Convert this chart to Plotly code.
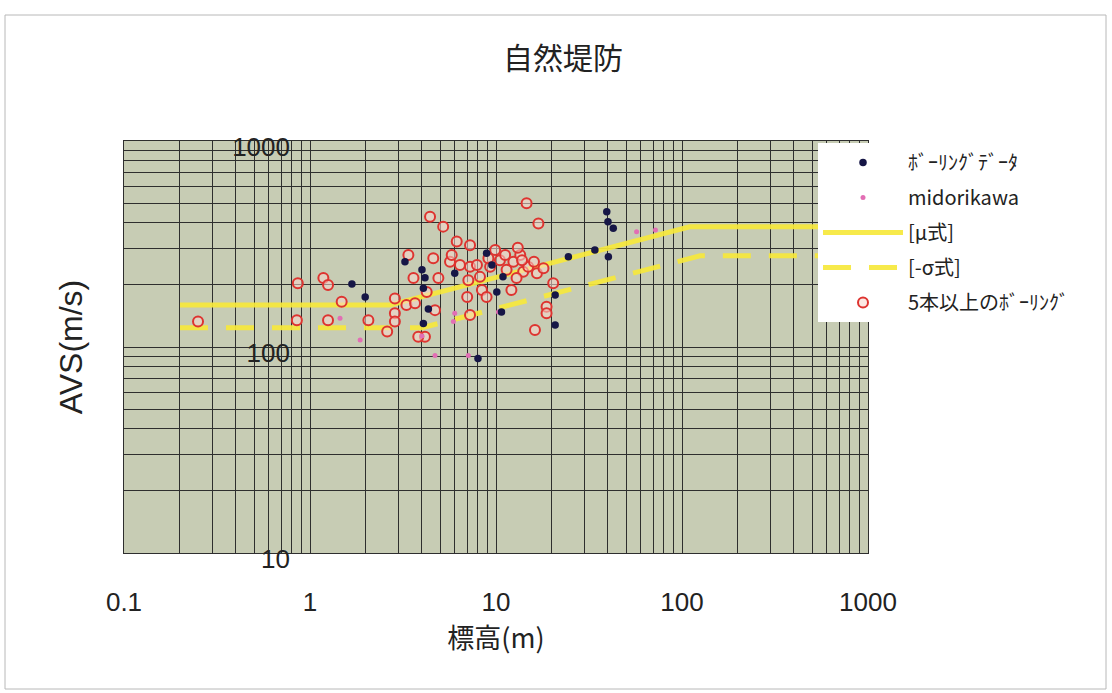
import plotly.graph_objects as go

# ---- data: elevation (m) vs. average shear-wave velocity AVS (m/s) ----
boring_h = [1.68, 1.98, 3.24, 4.0, 4.15, 4.07, 4.33, 4.07, 6.0, 8.0, 8.9, 9.5,
            10.9, 10.1, 10.7, 24.5, 20.8, 20.8, 39.4, 40.0, 42.7, 34.0, 40.2]
boring_avs = [202, 175, 259, 237, 217, 193, 153, 130, 228, 88, 285, 250,
              219, 185, 148, 274, 179, 128, 454, 405, 377, 296, 274]

midori_h = [1.45, 1.86, 4.7, 7.1, 6.0, 5.9, 10.3, 57, 72, 4.0]
midori_avs = [138, 108, 91, 91, 146, 133, 148, 363, 370, 113]

multi_h = [0.25, 0.86, 0.85, 1.18, 1.25, 1.48, 1.25, 2.06, 2.6, 2.86, 2.86, 2.86,
           3.3, 3.67, 3.38, 3.6, 4.15, 3.82, 4.42, 5.2, 4.6, 4.9, 5.66, 5.78,
           6.15, 7.25, 4.24, 4.7, 7.25, 7.9, 7.1, 8.2, 8.4, 7.0, 8.9, 7.25,
           9.3, 10.5, 11.4, 12.4, 13.5, 14.0, 14.9, 12.9, 12.1, 16.6, 18.0, 14.6,
           16.9, 20.3, 18.7, 18.7, 16.2, 9.9, 11.2, 13.1, 13.8, 16.0, 6.4, 9.1]
multi_avs = [133, 204, 135, 216, 200, 166, 135, 135, 119, 172, 146, 133,
             160, 163, 280, 216, 112, 112, 429, 384, 270, 216, 259, 280,
             325, 312, 185, 151, 245, 250, 211, 219, 189, 175, 175, 143,
             245, 264, 237, 259, 280, 232, 245, 216, 189, 228, 241, 499,
             398, 204, 157, 146, 121, 296, 280, 303, 264, 259, 250, 270]

mu_h = [0.2, 2.7, 110, 1000]
mu_avs = [160, 160, 383, 383]
sigma_h = [0.2, 4.0, 125, 1000]
sigma_avs = [124, 124, 277, 277]

x_decades = [0.1, 1, 10, 100, 1000]
x_labels = ["0.1", "1", "10", "100", "1000"]
y_decades = [10, 100, 1000]
y_labels = ["10", "100", "1000"]

# ---- layout geometry ----
W, H = 1112, 693
L, R, T, B = 124, 868, 141, 553
PW, PH = R - L, B - T


def px_x(p):
    return (p - L) / PW


def px_y(p):
    return (B - p) / PH


jp = "Noto Sans CJK JP"
num = "Liberation Sans"

# log grid: every 1..9 x 10^k
x_grid = [k * 10 ** e for e in range(-1, 3) for k in range(1, 10)] + [1000]
y_grid = [k * 10 ** e for e in range(1, 3) for k in range(1, 10)] + [1000]
x_text = [x_labels[x_decades.index(v)] if v in x_decades else "" for v in x_grid]

fig = go.Figure()

line_col = "rgba(246,232,60,0.92)"
fig.add_trace(go.Scatter(
    x=mu_h, y=mu_avs, mode="lines", name="[μ式]",
    line=dict(color=line_col, width=5), legendrank=3, legendgroup="c"))
fig.add_trace(go.Scatter(
    x=sigma_h, y=sigma_avs, mode="lines", name="[-σ式]",
    line=dict(color=line_col, width=5, dash="28px,18px"),
    legendrank=4, legendgroup="d"))
fig.add_trace(go.Scatter(
    x=multi_h, y=multi_avs, mode="markers", name="5本以上のﾎﾞｰﾘﾝｸﾞ",
    marker=dict(symbol="circle", size=10, color="rgba(250,215,205,0.55)",
                line=dict(color="rgb(222,52,48)", width=2)),
    legendrank=5, legendgroup="e"))
fig.add_trace(go.Scatter(
    x=midori_h, y=midori_avs, mode="markers", name="midorikawa",
    marker=dict(symbol="circle", size=5, color="rgb(226,110,180)"),
    legendrank=2, legendgroup="b"))
fig.add_trace(go.Scatter(
    x=boring_h, y=boring_avs, mode="markers", name="ﾎﾞｰﾘﾝｸﾞﾃﾞｰﾀ",
    marker=dict(symbol="circle", size=7.5, color="rgb(22,22,70)"),
    legendrank=1, legendgroup="a"))
# anchor trace for the value axis that sits at H = 1
fig.add_trace(go.Scatter(
    x=[1], y=[100], yaxis="y2", mode="markers", marker=dict(opacity=0),
    showlegend=False, hoverinfo="skip"))

grid_col = "#2e2e2e"
fig.update_layout(
    width=W, height=H,
    margin=dict(l=L, r=W - R, t=T, b=H - B, autoexpand=False),
    paper_bgcolor="white",
    plot_bgcolor="#c7ccb4",
    title=dict(text="自然堤防", x=563 / W, y=1 - 58 / H, xanchor="center",
               yanchor="middle", font=dict(family=jp, size=30, color="#222")),
    xaxis=dict(
        type="log", range=[-1, 3], tickmode="array", tickvals=x_grid,
        ticktext=x_text, showgrid=True, gridcolor=grid_col, gridwidth=1,
        zeroline=False, showline=True, linecolor=grid_col, linewidth=1,
        mirror=True, ticks="", ticklabelstandoff=26,
        tickfont=dict(family=num, size=26, color="#222"),
        title=dict(text="標高(m)", standoff=12,
                   font=dict(family=jp, size=27, color="#222")),
    ),
    yaxis=dict(
        type="log", range=[1, 3], tickmode="array", tickvals=y_grid,
        showticklabels=False, showgrid=True, gridcolor=grid_col, gridwidth=1,
        zeroline=False, showline=True, linecolor=grid_col, linewidth=1,
        mirror=True, ticks="",
        title=dict(text="AVS(m/s)", standoff=30,
                   font=dict(family=num, size=32, color="#222")),
    ),
    yaxis2=dict(
        type="log", range=[1, 3], overlaying="y", anchor="free",
        position=px_x(310), side="left", tickmode="array",
        tickvals=y_decades, ticktext=y_labels, showgrid=False,
        zeroline=False, showline=False, ticks="", ticklabelstandoff=20,
        ticklabelshift=6,
        tickfont=dict(family=num, size=26, color="#222"),
    ),
    legend=dict(
        x=px_x(818), y=px_y(143), xanchor="left", yanchor="top",
        bgcolor="white", borderwidth=0, traceorder="grouped",
        tracegroupgap=6, itemwidth=80,
        font=dict(family=jp, size=20, color="#222"),
    ),
    showlegend=True,
    shapes=[dict(type="rect", xref="paper", yref="paper",
                 x0=px_x(5), x1=px_x(1106), y0=px_y(689), y1=px_y(15),
                 line=dict(color="#b8b8b8", width=1), layer="below")],
)

fig.write_html("out.html")
